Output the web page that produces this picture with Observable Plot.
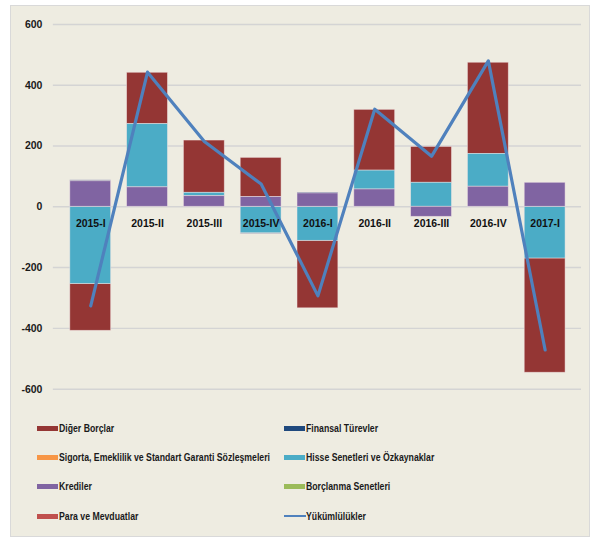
<!DOCTYPE html>
<html>
<head>
<meta charset="utf-8">
<script src="https://cdn.jsdelivr.net/npm/d3@7"></script>
<script src="https://cdn.jsdelivr.net/npm/@observablehq/plot@0.6"></script>
<style>
  body { margin: 0; background: #ffffff; }
  #frame { position: absolute; left: 10px; top: 5px; width: 578px; height: 530px; background: #EEECE1; border: 1px solid #d9d9d9; }
  #chart { position: absolute; left: 0; top: 0; }
  .lg { position: absolute; font-family: "Liberation Sans", Arial, sans-serif; font-weight: bold; font-size: 11.5px; color: #1a1a1a; white-space: nowrap; line-height: 14px; transform-origin: 0 50%; }
  .sw { position: absolute; width: 21px; height: 5px; }
  .swl { position: absolute; width: 22px; height: 2.5px; }
</style>
</head>
<body>
<div id="frame"><div id="chart"></div></div>
<script>
const categories = ["2015-I","2015-II","2015-III","2015-IV","2016-I","2016-II","2016-III","2016-IV","2017-I"];
const yTicks = [-600,-400,-200,0,200,400,600];

const digerBorclar      = [-154, 169, 172, 129, -222, 200, 118, 300, -376];
const finansalTurevler  = [3, 0, 0, -2, 3, 0, 0, 0, 0];
const sigorta           = [0, 0, 0, 0, 0, 0, 0, 0, 0];
const hisseSenetleri    = [-254, 208, 11, -87, -112, 62, 79, 108, -170];
const krediler          = [84, 64, 35, 32, 44, 57, -33, 66, 79];
const borclanma         = [0, 0, 0, 0, 0, 0, 0, 0, 0];
const paraMevduat       = [0, 0, 0, 0, 0, 0, 0, 0, 0];
const yukumlulukler     = [-326, 443, 215, 75, -293, 321, 166, 480, -471];

const seriesNames = ["Diğer Borçlar","Finansal Türevler","Sigorta, Emeklilik ve Standart Garanti Sözleşmeleri","Hisse Senetleri ve Özkaynaklar","Krediler","Borçlanma Senetleri","Para ve Mevduatlar"];
const seriesColors = ["#943634","#1F497D","#F79646","#4BACC6","#8064A2","#9BBB59","#C0504D"];
const seriesValues = [digerBorclar, finansalTurevler, sigorta, hisseSenetleri, krediler, borclanma, paraMevduat];
const stackOrder = ["Krediler","Hisse Senetleri ve Özkaynaklar","Para ve Mevduatlar","Borçlanma Senetleri","Sigorta, Emeklilik ve Standart Garanti Sözleşmeleri","Diğer Borçlar","Finansal Türevler"];

const barData = [];
seriesNames.forEach((s, i) => {
  categories.forEach((c, j) => {
    const v = seriesValues[i][j];
    if (v !== 0) barData.push({cat: c, series: s, value: v});
  });
});
const lineData = categories.map((c, j) => ({cat: c, value: yukumlulukler[j]}));

const fontFam = '"Liberation Sans", Arial, sans-serif';

const chart = Plot.plot({
  width: 580,
  height: 395,
  marginTop: 18,
  marginBottom: 11,
  marginLeft: 42,
  marginRight: 8,
  style: {background: "transparent", fontFamily: fontFam, fontSize: "10.5px", color: "#1a1a1a"},
  x: {domain: categories, padding: 0.287, axis: null, label: null},
  y: {domain: [-600, 600], axis: null, label: null},
  color: {domain: seriesNames, range: seriesColors},
  marks: [
    Plot.gridY(yTicks, {stroke: "#d4d4d4", strokeOpacity: 1, strokeWidth: 1.5}),
    Plot.axisY(yTicks, {tickSize: 0, tickPadding: 11, tickFormat: d => String(d), fontWeight: "bold", fontSize: 10.5, fill: "#1a1a1a", label: null}),
    Plot.barY(barData, {x: "cat", y: "value", fill: "series", order: stackOrder, stroke: "#f4e6e6", strokeOpacity: 0.6, strokeWidth: 0.8}),
    Plot.lineY(lineData, {x: "cat", y: "value", stroke: "#4F81BD", strokeWidth: 3.2}),
    Plot.text(categories, {x: d => d, y: () => 0, dy: 17, text: d => d, fontWeight: "bold", fontSize: 10.5, fill: "#111"})
  ]
});
document.getElementById("chart").appendChild(chart);

// Legend
const frame = document.getElementById("frame");
const legendItems = [
  {name: "Diğer Borçlar", color: "#943634", col: 0, row: 0, type: "bar"},
  {name: "Finansal Türevler", color: "#1F497D", col: 1, row: 0, type: "bar"},
  {name: "Sigorta, Emeklilik ve Standart Garanti Sözleşmeleri", color: "#F79646", col: 0, row: 1, type: "bar"},
  {name: "Hisse Senetleri ve Özkaynaklar", color: "#4BACC6", col: 1, row: 1, type: "bar"},
  {name: "Krediler", color: "#8064A2", col: 0, row: 2, type: "bar"},
  {name: "Borçlanma Senetleri", color: "#9BBB59", col: 1, row: 2, type: "bar"},
  {name: "Para ve Mevduatlar", color: "#C0504D", col: 0, row: 3, type: "bar"},
  {name: "Yükümlülükler", color: "#4F81BD", col: 1, row: 3, type: "line"}
];
const colX = [26, 273];
const rowY = [422, 451, 480, 510];
const texts = [];
legendItems.forEach(it => {
  const sw = document.createElement("div");
  sw.className = it.type === "line" ? "swl" : "sw";
  sw.style.background = it.color;
  sw.style.left = colX[it.col] + "px";
  sw.style.top = (rowY[it.row] - (it.type === "line" ? 1.25 : 2.5)) + "px";
  frame.appendChild(sw);
  const t = document.createElement("div");
  t.className = "lg";
  t.textContent = it.name;
  t.style.left = (colX[it.col] + 22) + "px";
  t.style.top = (rowY[it.row] - 7) + "px";
  frame.appendChild(t);
  texts.push(t);
});
// condense legend text to the narrow look of the original
const ref = texts[2].getBoundingClientRect().width;
const k = Math.min(1, 211 / ref);
texts.forEach(t => { t.style.transform = "scaleX(" + k + ")"; });
</script>
</body>
</html>
